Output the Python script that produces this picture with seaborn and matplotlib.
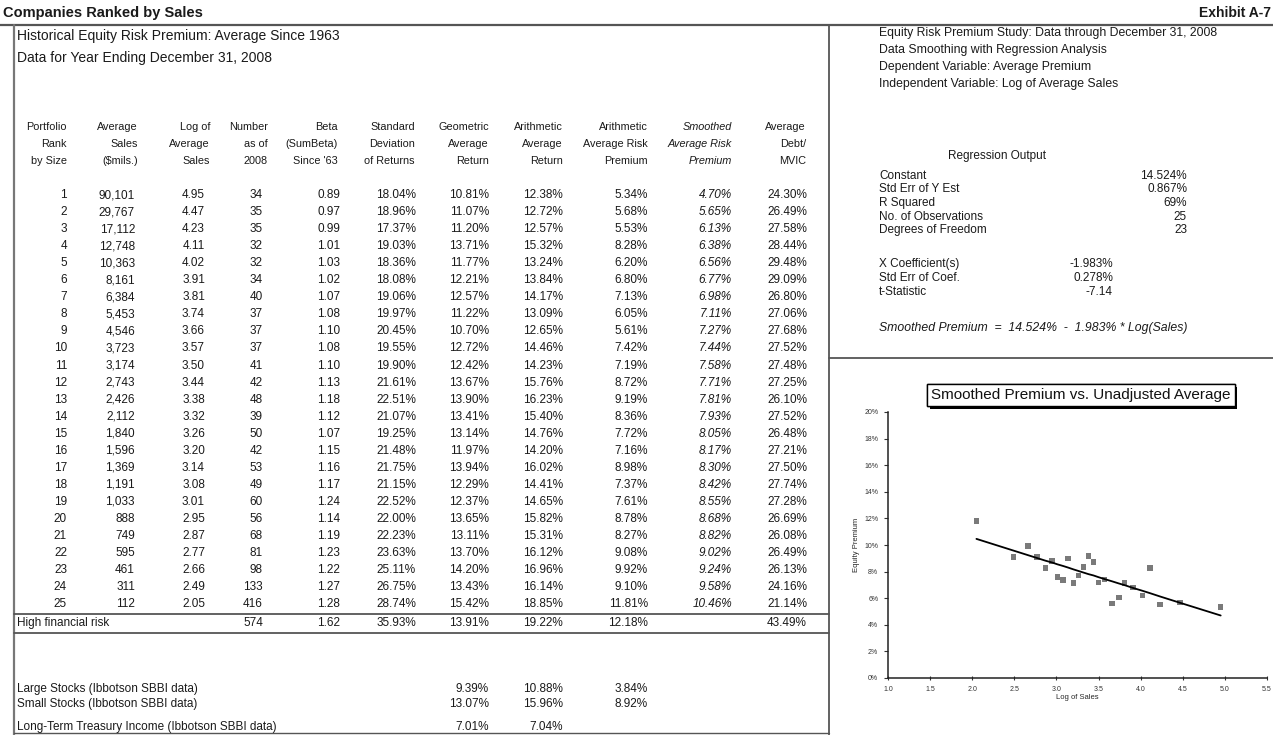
import numpy as np
import pandas as pd
import matplotlib
matplotlib.use("Agg")
import matplotlib.pyplot as plt
import matplotlib.patheffects as pe
from matplotlib.lines import Line2D
import seaborn as sns

# ---- portfolio data (25 portfolios ranked by sales) ----
rank = list(range(1, 26))
avg_sales = [90101, 29767, 17112, 12748, 10363, 8161, 6384, 5453, 4546, 3723,
             3174, 2743, 2426, 2112, 1840, 1596, 1369, 1191, 1033, 888,
             749, 595, 461, 311, 112]
log_sales = [4.95, 4.47, 4.23, 4.11, 4.02, 3.91, 3.81, 3.74, 3.66, 3.57,
             3.50, 3.44, 3.38, 3.32, 3.26, 3.20, 3.14, 3.08, 3.01, 2.95,
             2.87, 2.77, 2.66, 2.49, 2.05]
num_firms = [34, 35, 35, 32, 32, 34, 40, 37, 37, 37, 41, 42, 48, 39, 50,
             42, 53, 49, 60, 56, 68, 81, 98, 133, 416]
beta = [0.89, 0.97, 0.99, 1.01, 1.03, 1.02, 1.07, 1.08, 1.10, 1.08, 1.10,
        1.13, 1.18, 1.12, 1.07, 1.15, 1.16, 1.17, 1.24, 1.14, 1.19, 1.23,
        1.22, 1.27, 1.28]
std_dev = [18.04, 18.96, 17.37, 19.03, 18.36, 18.08, 19.06, 19.97, 20.45,
           19.55, 19.90, 21.61, 22.51, 21.07, 19.25, 21.48, 21.75, 21.15,
           22.52, 22.00, 22.23, 23.63, 25.11, 26.75, 28.74]
geo_return = [10.81, 11.07, 11.20, 13.71, 11.77, 12.21, 12.57, 11.22, 10.70,
              12.72, 12.42, 13.67, 13.90, 13.41, 13.14, 11.97, 13.94, 12.29,
              12.37, 13.65, 13.11, 13.70, 14.20, 13.43, 15.42]
arith_return = [12.38, 12.72, 12.57, 15.32, 13.24, 13.84, 14.17, 13.09, 12.65,
                14.46, 14.23, 15.76, 16.23, 15.40, 14.76, 14.20, 16.02, 14.41,
                14.65, 15.82, 15.31, 16.12, 16.96, 16.14, 18.85]
arith_premium = [5.34, 5.68, 5.53, 8.28, 6.20, 6.80, 7.13, 6.05, 5.61, 7.42,
                 7.19, 8.72, 9.19, 8.36, 7.72, 7.16, 8.98, 7.37, 7.61, 8.78,
                 8.27, 9.08, 9.92, 9.10, 11.81]
smoothed_premium = [4.70, 5.65, 6.13, 6.38, 6.56, 6.77, 6.98, 7.11, 7.27, 7.44,
                    7.58, 7.71, 7.81, 7.93, 8.05, 8.17, 8.30, 8.42, 8.55, 8.68,
                    8.82, 9.02, 9.24, 9.58, 10.46]
debt_mvic = [24.30, 26.49, 27.58, 28.44, 29.48, 29.09, 26.80, 27.06, 27.68,
             27.52, 27.48, 27.25, 26.10, 27.52, 26.48, 27.21, 27.50, 27.74,
             27.28, 26.69, 26.08, 26.49, 26.13, 24.16, 21.14]

# high financial risk portfolio
hfr_number, hfr_beta, hfr_std = 574, 1.62, 35.93
hfr_geo, hfr_arith, hfr_premium, hfr_debt = 13.91, 19.22, 12.18, 43.49

# Ibbotson SBBI benchmarks
large_stocks = [9.39, 10.88, 3.84]
small_stocks = [13.07, 15.96, 8.92]
lt_treasury = [7.01, 7.04]

# regression output
reg_labels = ["Constant", "Std Err of Y Est", "R Squared",
              "No. of Observations", "Degrees of Freedom"]
reg_values = ["14.524%", "0.867%", "69%", "25", "23"]
coef_labels = ["X Coefficient(s)", "Std Err of Coef.", "t-Statistic"]
coef_values = ["-1.983%", "0.278%", "-7.14"]

col_headers = [
    ["Portfolio", "Rank", "by Size"],
    ["Average", "Sales", "($mils.)"],
    ["Log of", "Average", "Sales"],
    ["Number", "as of", "2008"],
    ["Beta", "(SumBeta)", "Since '63"],
    ["Standard", "Deviation", "of Returns"],
    ["Geometric", "Average", "Return"],
    ["Arithmetic", "Average", "Return"],
    ["Arithmetic", "Average Risk", "Premium"],
    ["Smoothed", "Average Risk", "Premium"],
    ["Average", "Debt/", "MVIC"],
]

sns.set_style("white")
plt.rcParams['font.family'] = ['Liberation Sans', 'DejaVu Sans']

W, H = 1273, 735
fig = plt.figure(figsize=(W / 100, H / 100), dpi=100)
fig.patch.set_facecolor("white")


def fx(x):
    return x / W


def fy(y):
    return 1 - y / H


def put(x, y, s, ha="right", size=8.5, **kw):
    fig.text(fx(x), fy(y), s, ha=ha, va="center", fontsize=size,
             color="#1a1a1a", **kw)


def hline(y, x0, x1, lw=1.0, color="#555555"):
    fig.add_artist(Line2D([fx(x0), fx(x1)], [fy(y), fy(y)],
                          transform=fig.transFigure, lw=lw, color=color))


def vline(x, y0, y1, lw=1.0, color="#555555"):
    fig.add_artist(Line2D([fx(x), fx(x)], [fy(y0), fy(y1)],
                          transform=fig.transFigure, lw=lw, color=color))


def pct(v):
    return f"{v:.2f}%"


# ---- frame ----
hline(25, 0, W, lw=1.6)
vline(14, 25, H, lw=1.6, color="#777777")
vline(829, 25, H, lw=1.3)
hline(358, 829, W, lw=1.3)
hline(614, 14, 829, lw=1.3)
hline(633, 14, 829, lw=1.3)
hline(733, 14, 829, lw=1.0)

put(3, 13, "Companies Ranked by Sales", ha="left", size=10.5, weight="bold")
put(1271, 13, "Exhibit A-7", ha="right", size=10, weight="bold")
put(17, 36, "Historical Equity Risk Premium: Average Since 1963", ha="left", size=10)
put(17, 58, "Data for Year Ending December 31, 2008", ha="left", size=10)

# ---- table ----
hdr_right = [67, 138, 210, 268, 338, 415, 489, 563, 648, 732, 806]
val_right = [67, 135, 205, 263, 340, 416, 489, 563, 648, 732, 807]
hdr_y = [127, 144, 161]
for c, lines in enumerate(col_headers):
    for k, txt in enumerate(lines):
        style = "italic" if c == 9 else "normal"
        put(hdr_right[c], hdr_y[k], txt, size=7.8, style=style)

row_y0, row_dy = 195, 17.05
for i in range(25):
    y = row_y0 + i * row_dy
    cells = [str(rank[i]), f"{avg_sales[i]:,}", f"{log_sales[i]:.2f}",
             str(num_firms[i]), f"{beta[i]:.2f}", pct(std_dev[i]),
             pct(geo_return[i]), pct(arith_return[i]), pct(arith_premium[i]),
             pct(smoothed_premium[i]), pct(debt_mvic[i])]
    for c, txt in enumerate(cells):
        style = "italic" if c == 9 else "normal"
        put(val_right[c], y, txt, size=8.5, style=style)

y_hfr = 623
put(17, y_hfr, "High financial risk", ha="left", size=8.5)
for c, txt in [(3, str(hfr_number)), (4, f"{hfr_beta:.2f}"), (5, pct(hfr_std)),
               (6, pct(hfr_geo)), (7, pct(hfr_arith)), (8, pct(hfr_premium)),
               (10, pct(hfr_debt))]:
    put(val_right[c], y_hfr, txt, size=8.5)

bench = [("Large Stocks (Ibbotson SBBI data)", large_stocks, 689),
         ("Small Stocks (Ibbotson SBBI data)", small_stocks, 704),
         ("Long-Term Treasury Income (Ibbotson SBBI data)", lt_treasury, 727)]
for label, vals, y in bench:
    put(17, y, label, ha="left", size=8.5)
    for k, v in enumerate(vals):
        put(val_right[6 + k], y, pct(v), size=8.5)

# ---- regression panel ----
info = ["Equity Risk Premium Study: Data through December 31, 2008",
        "Data Smoothing with Regression Analysis",
        "Dependent Variable: Average Premium",
        "Independent Variable: Log of Average Sales"]
for k, txt in enumerate(info):
    put(879, 33 + k * 17, txt, ha="left", size=8.8)

put(997, 156, "Regression Output", ha="center", size=8.5)
for k, (lab, val) in enumerate(zip(reg_labels, reg_values)):
    y = 176 + k * 13.5
    put(879, y, lab, ha="left", size=8.5)
    put(1187, y, val, ha="right", size=8.5)
for k, (lab, val) in enumerate(zip(coef_labels, coef_values)):
    y = 264 + k * 14
    put(879, y, lab, ha="left", size=8.5)
    put(1113, y, val, ha="right", size=8.5)
put(879, 328, "Smoothed Premium  =  14.524%  -  1.983% * Log(Sales)",
    ha="left", size=8.8, style="italic")

# ---- chart: smoothed premium vs. unadjusted average ----
df = pd.DataFrame({"log_sales": log_sales,
                   "premium": np.array(arith_premium) / 100,
                   "smoothed": np.array(smoothed_premium) / 100})

ax = fig.add_axes([fx(888), fy(678), (1267 - 888) / W, (678 - 412) / H])
ax.patch.set_alpha(0)
sns.lineplot(data=df, x="log_sales", y="smoothed", ax=ax, color="black",
             lw=1.3)
sns.scatterplot(data=df, x="log_sales", y="premium", ax=ax, marker="s",
                s=16, color="#7a7a7a", edgecolor="none")
ax.set_xlim(1.0, 5.5)
ax.set_ylim(0, 0.20)
ax.set_xticks(np.arange(1.0, 5.51, 0.5))
ax.set_xticklabels([f"{v:.1f}" for v in np.arange(1.0, 5.51, 0.5)])
ax.set_yticks(np.arange(0, 0.201, 0.02))
ax.set_yticklabels([f"{v * 100:.0f}%" for v in np.arange(0, 0.201, 0.02)])
ax.tick_params(axis="both", labelsize=5, length=3, width=0.8, pad=4,
               colors="#333333", direction="out")
ax.tick_params(axis="y", left=True)
ax.tick_params(axis="x", bottom=True, direction="inout")
for side in ["top", "right"]:
    ax.spines[side].set_visible(False)
for side in ["left", "bottom"]:
    ax.spines[side].set_color("#222222")
    ax.spines[side].set_linewidth(1.1)
ax.set_xlabel("Log of Sales", fontsize=5.5, labelpad=1)
ax.set_ylabel("Equity Premium", fontsize=5.5, labelpad=3)

title = fig.text(fx(1081), fy(395), "Smoothed Premium vs. Unadjusted Average",
                 ha="center", va="center", fontsize=11, color="#111111",
                 bbox=dict(boxstyle="square,pad=0.25", fc="white",
                           ec="black", lw=1.0))
title.get_bbox_patch().set_path_effects(
    [pe.withSimplePatchShadow(offset=(2, -2), shadow_rgbFace="black",
                              alpha=1.0), pe.Normal()])

fig.savefig("out.png", dpi=100, facecolor="white")
